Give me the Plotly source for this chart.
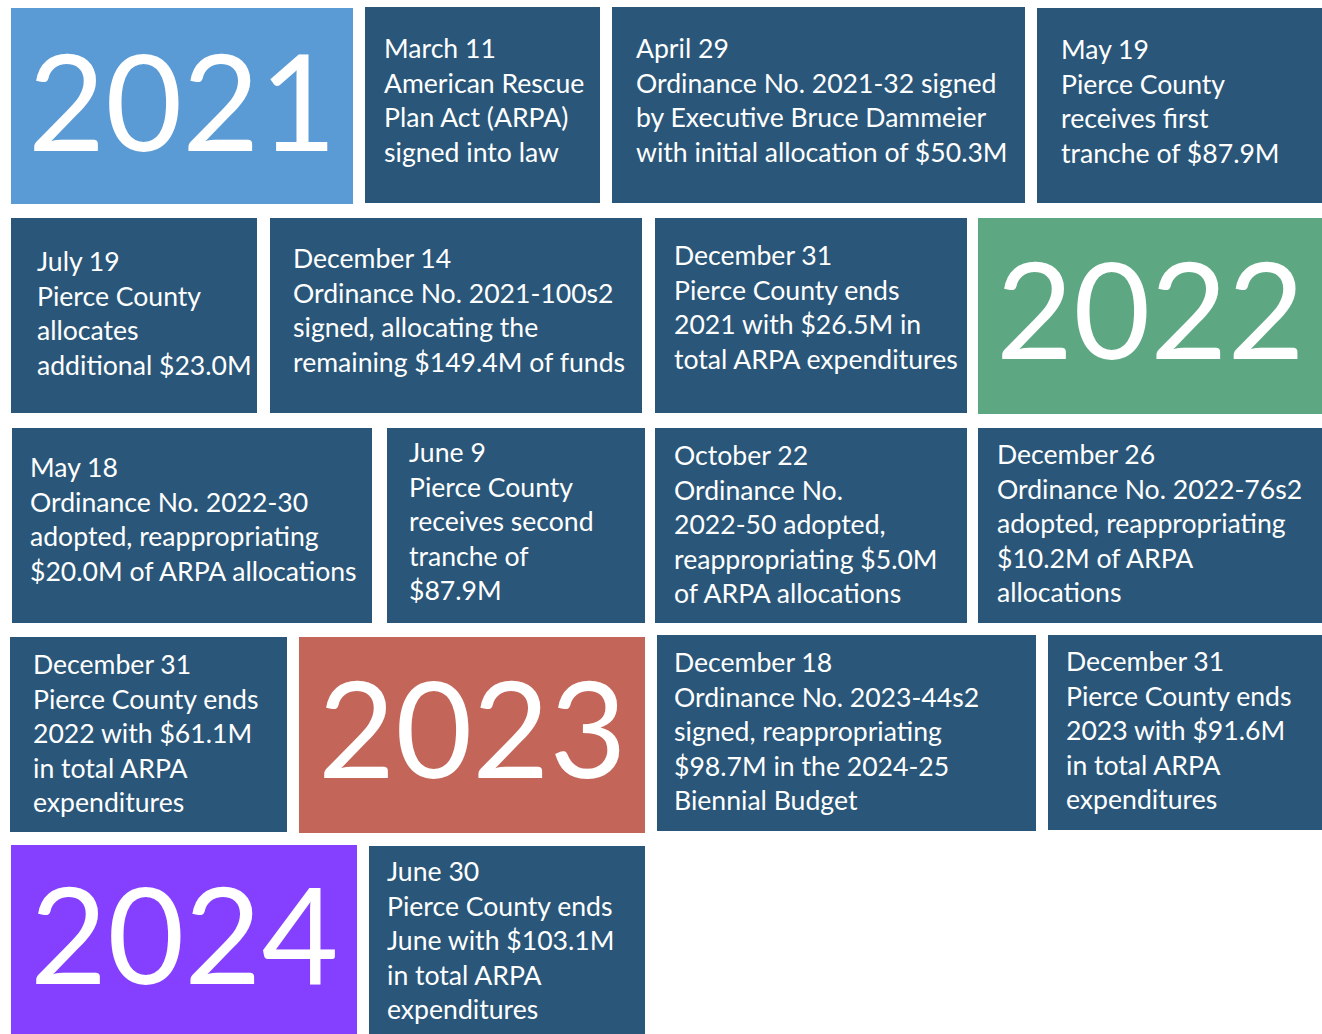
import plotly.graph_objects as go

# --- datos del timeline ---
anios = ["2021", "2022", "2023", "2024"]
colores_anio = ["#5B9BD5", "#5DA883", "#C36558", "#853FFF"]

fechas = [
    "March 11", "April 29", "May 19",
    "July 19", "December 14", "December 31",
    "May 18", "June 9", "October 22", "December 26",
    "December 31", "December 18", "December 31",
    "June 30",
]
descripciones = [
    ["American Rescue", "Plan Act (ARPA)", "signed into law"],
    ["Ordinance No. 2021-32 signed", "by Executive Bruce Dammeier", "with initial allocation of $50.3M"],
    ["Pierce County", "receives first", "tranche of $87.9M"],
    ["Pierce County", "allocates", "additional $23.0M"],
    ["Ordinance No. 2021-100s2", "signed, allocating the", "remaining $149.4M of funds"],
    ["Pierce County ends", "2021 with $26.5M in", "total ARPA expenditures"],
    ["Ordinance No. 2022-30", "adopted, reappropriating", "$20.0M of ARPA allocations"],
    ["Pierce County", "receives second", "tranche of", "$87.9M"],
    ["Ordinance No.", "2022-50 adopted,", "reappropriating $5.0M", "of ARPA allocations"],
    ["Ordinance No. 2022-76s2", "adopted, reappropriating", "$10.2M of ARPA", "allocations"],
    ["Pierce County ends", "2022 with $61.1M", "in total ARPA", "expenditures"],
    ["Ordinance No. 2023-44s2", "signed, reappropriating", "$98.7M in the 2024-25", "Biennial Budget"],
    ["Pierce County ends", "2023 with $91.6M", "in total ARPA", "expenditures"],
    ["Pierce County ends", "June with $103.1M", "in total ARPA", "expenditures"],
]

# --- maqueta: casillas (x0, x1, y0, y1, (tipo, indice), dx texto, dy texto) ---
casillas = [
    (11, 353, 8, 204, ("anio", 0), 0, -7),
    (365, 600, 7, 203, ("evento", 0), 17, -5),
    (612, 1025, 7, 203, ("evento", 1), 22, -5),
    (1037, 1322, 8, 203, ("evento", 2), 22, -4.5),
    (11, 257, 218, 413, ("evento", 3), 24, -2.5),
    (270, 642, 218, 413, ("evento", 4), 21, -5.5),
    (655, 967, 218, 413, ("evento", 5), 17, -8.5),
    (978, 1322, 218, 414, ("anio", 1), 0, -9),
    (12, 372, 428, 623, ("evento", 6), 16, -6.5),
    (387, 645, 428, 623, ("evento", 7), 20, -4.5),
    (655, 967, 428, 623, ("evento", 8), 17, -1.5),
    (978, 1322, 428, 623, ("evento", 9), 17, -2.5),
    (10, 287, 637, 832, ("evento", 10), 21, -2),
    (299, 645, 637, 833, ("anio", 2), 0, -9),
    (657, 1036, 635, 831, ("evento", 11), 15, -2.5),
    (1048, 1322, 635, 830, ("evento", 12), 16, -2.5),
    (11, 357, 845, 1034, ("anio", 3), 0, -7),
    (369, 645, 846, 1034, ("evento", 13), 16, -0.5),
]
AZUL = "#2A5779"
FUENTE = "Lato, 'Open Sans', sans-serif"

fig = go.Figure()
shapes = []
annotations = []

for x0, x1, y0, y1, (tipo, i), dx, dy in casillas:
    color = colores_anio[i] if tipo == "anio" else AZUL
    shapes.append(dict(type="rect", xref="x", yref="y", x0=x0, x1=x1, y0=y0, y1=y1,
                       fillcolor=color, line=dict(width=0), layer="below"))
    if tipo == "anio":
        annotations.append(dict(x=(x0 + x1) / 2, y=(y0 + y1) / 2 + dy, xref="x", yref="y",
                                text=anios[i], showarrow=False, xanchor="center", yanchor="middle",
                                font=dict(family=FUENTE, size=133, color="white")))
    else:
        texto = "<br>".join([fechas[i]] + descripciones[i])
        annotations.append(dict(x=x0 + dx, y=(y0 + y1) / 2 + dy, xref="x", yref="y",
                                text=texto, showarrow=False, xanchor="left", yanchor="middle",
                                align="left",
                                font=dict(family=FUENTE, size=26.6, color="white")))

fig.update_layout(
    width=1322, height=1034,
    margin=dict(l=0, r=0, t=0, b=0),
    paper_bgcolor="white", plot_bgcolor="white",
    shapes=shapes, annotations=annotations,
    xaxis=dict(range=[0, 1322], visible=False, fixedrange=True),
    yaxis=dict(range=[1034, 0], visible=False, fixedrange=True),
    showlegend=False,
)

fig.write_html("out.html", config={"displayModeBar": False},
               post_script="document.body.style.margin='0';")
